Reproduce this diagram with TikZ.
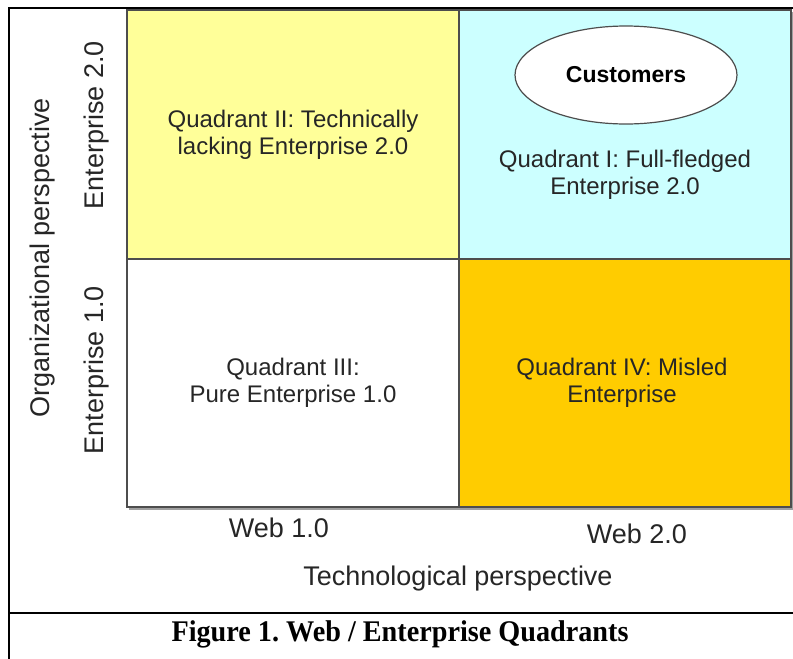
\documentclass[tikz,border=0pt]{standalone}
\usepackage{fontspec}
\setmainfont{Liberation Sans}
\newfontfamily\capfont{Liberation Serif}
\usetikzlibrary{shapes.geometric}
\definecolor{qtwo}{HTML}{FFFF99}
\definecolor{qone}{HTML}{CCFFFF}
\definecolor{qfour}{HTML}{FFCC00}
\definecolor{qborder}{HTML}{4D4D4D}
\definecolor{qtext}{HTML}{262626}
\definecolor{qshadow}{HTML}{A0A0A0}
\tikzset{
  quad/.style={draw=qborder, line width=1.2pt},
  qlabel/.style={inner sep=0pt, align=center, text=qtext, font=\fontsize{24}{27}\selectfont},
  axlabel/.style={inner sep=0pt, text=qtext, font=\fontsize{27}{32}\selectfont},
  frameline/.style={line width=2.6pt, black},
}
\frenchspacing
\begin{document}
\begin{tikzpicture}[x=1pt, y=-1pt]
\useasboundingbox (0,0) rectangle (793,659);
\fill[white] (0,0) rectangle (793,659);
% frame
\coordinate (ftl) at (9,8);
\coordinate (ftr) at (793,8);
\coordinate (fbl) at (9,659);
\coordinate (fsl) at (9,613);
\coordinate (fsr) at (793,613);
\draw[frameline] (ftr) -- (ftl) -- (fbl);
\draw[frameline] (fsl) -- (fsr);
% shadow
\fill[qshadow] (129,12) rectangle (793,510);
% quadrants
\filldraw[quad, fill=qtwo] (127,10) rectangle (459,259);
\filldraw[quad, fill=qone] (459,10) rectangle (791,259);
\filldraw[quad, fill=white] (127,259) rectangle (459,507);
\filldraw[quad, fill=qfour] (459,259) rectangle (791,507);
% ellipse
\node[ellipse, draw=qborder, line width=1.2pt, fill=white, minimum width=222pt, minimum height=98pt, inner sep=0pt,
      font=\bfseries\fontsize{23}{27}\selectfont, text=black] (cust) at (626,75) {Customers};
% quadrant texts
\node[qlabel] (q2) at (293,135) {Quadrant II: Technically\\lacking Enterprise 2.0};
\node[qlabel] (q1) at (625,175) {Quadrant I: Full-fledged\\Enterprise 2.0};
\node[qlabel] (q3) at (293,383) {Quadrant III:\\Pure Enterprise 1.0};
\node[qlabel] (q4) at (622,383) {Quadrant IV: Misled\\Enterprise};
% axis labels
\node[axlabel] (w1) at (279,528) {Web 1.0};
\node[axlabel] (w2) at (637,534) {Web 2.0};
\node[axlabel] (tp) at (458,579) {Technological perspective};
\node[axlabel, rotate=90] (op) at (43,258) {Organizational perspective};
\node[axlabel, rotate=90] (e2) at (97,125) {Enterprise 2.0};
\node[axlabel, rotate=90] (e1) at (97,370) {Enterprise 1.0};
% caption
\node[inner sep=0pt, xscale=0.94, font=\capfont\bfseries\fontsize{30}{34}\selectfont] (cap) at (400,634) {Figure 1. Web / Enterprise Quadrants};
\end{tikzpicture}
\end{document}
